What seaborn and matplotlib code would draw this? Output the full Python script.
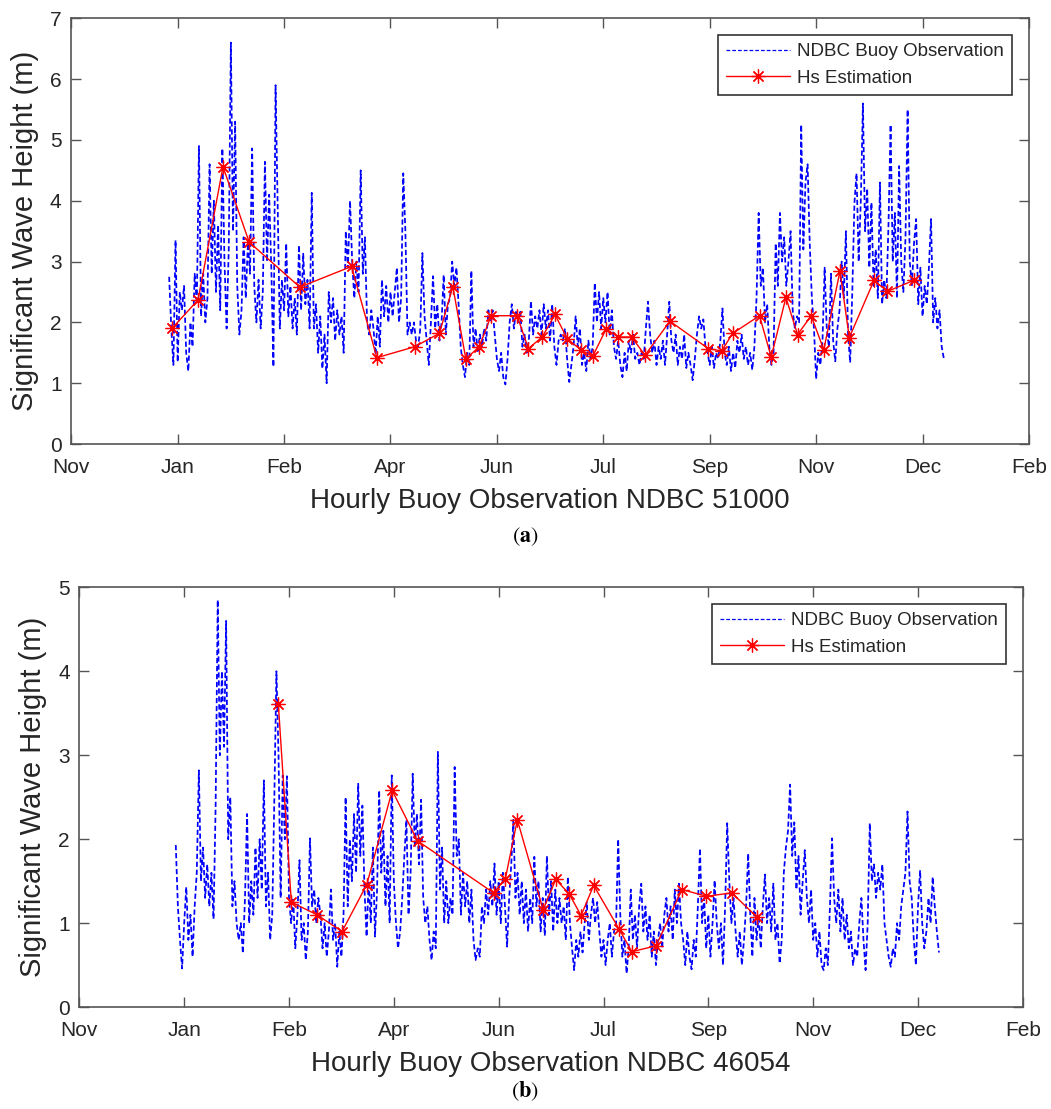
import numpy as np
import pandas as pd
import matplotlib
matplotlib.use("Agg")
import matplotlib.pyplot as plt
import seaborn as sns

# ---------------------------------------------------------------------------
# Axis ticks (x axis measured in days from the first tick)
tick_days = [0, 50, 100, 150, 200, 250, 300, 350, 400, 450]
tick_labels = ["Nov", "Jan", "Feb", "Apr", "Jun", "Jul", "Sep", "Nov", "Dec", "Feb"]

# Buoy observations, one sample per day starting at day 46
obs_first_day = 46
obs_51000 = [
    2.75, 1.9, 1.3, 3.35, 1.35,   2.5, 2.2, 2.6, 1.5, 1.2,
    2.0, 1.6, 2.8, 2.3, 4.9,      2.1, 2.8, 2.0, 2.4, 4.6,
    2.8, 4.0, 2.5, 3.6, 2.2,      4.86, 3.0, 1.9, 3.2, 6.6,
    3.5, 5.3, 2.6, 1.8, 2.2,      3.4, 2.4, 3.3, 2.8, 4.86,
    2.6, 2.0, 2.7, 1.9, 2.5,      4.64, 3.0, 4.1, 2.9, 1.27,
    5.9, 3.9, 1.9, 2.7, 2.2,      3.3, 2.1, 2.6, 1.9, 2.4,
    1.8, 3.27, 2.2, 3.13, 2.3,    2.7, 1.9, 4.13, 1.9, 2.3,
    1.5, 2.1, 1.24, 1.8, 1.0,     2.5, 2.0, 2.4, 1.7, 2.2,
    1.8, 2.1, 1.5, 3.5, 2.9,      4.0, 3.0, 2.4, 3.0, 2.5,
    4.5, 2.8, 3.4, 2.0, 1.8,      2.2, 1.9, 1.47, 2.1, 1.6,
    2.7, 2.1, 2.6, 2.0, 2.5,      2.1, 2.5, 2.9, 2.0, 2.4,
    4.45, 3.5, 1.8, 2.0, 1.8,     2.0, 1.7, 1.6, 1.9, 3.14,
    2.1, 1.7, 1.3, 2.0, 2.76,     1.9, 2.3, 1.7, 2.0, 2.78,
    1.8, 2.3, 2.4, 3.0, 2.6,      2.9, 2.3, 1.6, 1.3, 1.1,
    1.5, 1.3, 2.85, 1.6, 1.9,     1.5, 1.8, 1.6, 1.9, 1.7,
    2.2, 2.0, 2.2, 1.8, 1.4,      1.2, 1.5, 1.1, 0.98, 1.4,
    2.0, 2.3, 1.9, 2.2, 2.0,      2.2, 1.6, 1.8, 1.5, 1.7,
    2.35, 1.8, 2.1, 1.9, 2.2,     1.8, 2.3, 1.9, 2.2, 1.7,
    2.3, 1.6, 1.3, 1.7, 1.8,      1.7, 1.9, 1.4, 1.02, 1.3,
    1.6, 2.1, 1.6, 1.9, 1.3,      1.5, 1.2, 1.7, 1.4, 1.6,
    2.65, 2.0, 2.5, 1.9, 2.4,     2.0, 2.5, 1.8, 2.2, 1.6,
    1.4, 1.7, 1.3, 1.1, 1.5,      1.2, 1.7, 1.5, 1.8, 1.4,
    1.5, 1.3, 1.5, 1.4, 1.9,      2.34, 1.8, 1.5, 1.7, 1.3,
    1.6, 1.4, 1.7, 1.3, 1.8,      2.34, 1.7, 1.5, 1.8, 1.3,
    1.6, 1.4, 1.8, 1.25, 1.5,     1.3, 1.05, 1.4, 1.8, 2.1,
    1.9, 2.05, 1.6, 1.5, 1.3,     1.6, 1.25, 1.5, 1.4, 1.7,
    2.23, 1.5, 1.3, 1.6, 1.2,     1.5, 1.25, 1.7, 1.5, 1.8,
    1.4, 1.6, 1.3, 1.5, 1.22,     1.6, 2.4, 3.8, 2.6, 2.9,
    2.0, 2.3, 1.6, 1.3, 1.5,      3.3, 2.6, 3.8, 3.0, 3.4,
    2.6, 3.0, 3.5, 2.2, 1.9,      2.1, 2.0, 5.25, 3.2, 4.3,
    4.6, 3.3, 2.4, 1.9, 1.07,     1.5, 1.3, 1.7, 2.9, 1.9,
    1.6, 2.8, 1.7, 1.36, 1.9,     2.2, 3.0, 2.4, 3.5, 1.8,
    1.34, 2.5, 3.96, 4.45, 3.0,   4.0, 5.6, 3.5, 4.2, 2.9,
    3.97, 2.6, 3.2, 2.4, 4.3,     2.3, 2.7, 2.4, 3.6, 5.25,
    3.0, 3.8, 2.4, 4.57, 3.0,     2.5, 3.4, 5.5, 3.0, 2.6,
    3.3, 3.7, 2.3, 2.9, 2.1,      2.6, 2.3, 2.9, 3.7, 2.0,
    2.4, 1.9, 2.2, 1.6, 1.41,
]
obs_46054 = [
    1.93, 1.2, 0.8, 0.46, 1.0,    1.43, 0.8, 1.1, 0.6, 1.2,
    1.6, 2.82, 1.5, 1.9, 1.3,     1.7, 1.2, 1.6, 1.05, 2.4,
    4.85, 3.0, 4.0, 3.1, 4.6,     2.0, 2.5, 1.2, 1.5, 1.0,
    0.8, 1.0, 0.64, 1.3, 2.3,     1.0, 1.5, 1.1, 1.9, 1.3,
    2.0, 1.4, 2.7, 1.2, 1.6,      0.8, 1.1, 2.5, 4.0, 3.0,
    1.3, 2.76, 2.0, 2.75, 1.3,    1.0, 1.3, 0.7, 1.1, 1.75,
    0.8, 1.0, 0.56, 0.9, 2.01,    1.2, 1.4, 1.0, 1.3, 1.1,
    0.7, 1.0, 0.6, 0.9, 1.4,      0.8, 1.0, 0.48, 0.9, 0.6,
    1.1, 2.5, 1.2, 2.0, 1.5,      2.3, 1.6, 2.66, 1.8, 2.4,
    1.4, 0.84, 1.5, 1.0, 1.9,     0.84, 1.4, 2.58, 1.6, 2.1,
    1.2, 1.8, 1.0, 2.76, 1.5,     1.0, 0.7, 0.9, 1.3, 1.8,
    2.23, 1.1, 1.6, 2.78, 1.9,    2.3, 1.7, 2.47, 1.3, 1.0,
    1.2, 0.8, 0.56, 0.9, 0.7,     3.04, 1.4, 1.9, 1.0, 1.5,
    1.0, 1.3, 1.1, 2.86, 1.8,     2.0, 1.1, 1.6, 1.2, 1.5,
    1.0, 1.4, 0.8, 0.56, 0.7,     0.6, 1.2, 1.0, 1.4, 1.1,
    1.5, 1.2, 1.71, 1.1, 1.5,     1.0, 1.6, 1.2, 0.72, 1.3,
    1.7, 2.23, 1.3, 1.6, 1.1,     1.5, 1.0, 1.4, 0.9, 1.3,
    1.0, 1.79, 1.2, 1.5, 0.9,     1.3, 0.85, 1.8, 1.1, 1.5,
    0.9, 1.4, 1.0, 1.3, 1.0,      1.2, 0.8, 1.55, 1.0, 0.7,
    0.44, 0.8, 0.6, 0.9, 0.65,    1.0, 1.25, 0.8, 1.1, 1.3,
    1.0, 1.25, 0.9, 0.6, 0.8,     0.5, 0.8, 1.0, 0.6, 0.9,
    1.0, 2.0, 1.1, 0.6, 0.8,      0.4, 0.7, 1.4, 0.8, 1.1,
    0.7, 1.2, 1.47, 0.9, 1.2,     0.8, 1.1, 0.6, 0.9, 0.5,
    0.8, 1.0, 0.7, 1.1, 1.3,      0.9, 1.2, 0.8, 1.4, 1.0,
    1.47, 1.0, 0.8, 0.5, 0.9,     0.6, 0.45, 0.8, 0.6, 1.2,
    1.89, 1.0, 1.3, 0.7, 1.1,     0.6, 1.0, 1.51, 1.0, 0.7,
    1.0, 0.5, 1.2, 2.19, 1.5,     1.0, 1.3, 0.9, 0.6, 0.9,
    0.5, 0.8, 1.2, 1.83, 1.1,     0.6, 1.3, 0.8, 1.1, 0.7,
    1.2, 1.58, 1.0, 1.3, 0.9,     1.47, 0.8, 1.0, 0.52, 0.8,
    1.6, 1.9, 2.1, 2.65, 1.8,     2.2, 1.4, 1.8, 1.1, 1.5,
    1.87, 1.3, 1.0, 1.4, 0.8,     1.0, 0.6, 0.9, 0.5, 0.44,
    0.7, 0.5, 1.2, 2.01, 1.3,     1.0, 1.4, 0.9, 1.3, 0.8,
    1.1, 0.7, 0.9, 0.5, 0.7,      0.6, 1.0, 1.3, 0.8, 0.44,
    1.0, 2.19, 1.5, 1.7, 1.3,     1.6, 1.4, 1.7, 1.0, 0.8,
    0.6, 0.48, 0.7, 0.6, 1.0,     0.8, 1.2, 1.4, 1.6, 2.33,
    1.5, 1.3, 0.8, 0.5, 1.2,      1.63, 1.0, 0.7, 0.9, 1.3,
    1.0, 1.55, 1.2, 0.9, 0.65,
]

# Hs estimates
est_51000_day = [47.3, 59.6, 71.3, 83.6, 107.4, 131.7, 143.6, 161.4, 173.0,
                 179.3, 185.4, 191.7, 197.3, 209.5, 214.8, 221.3, 227.3,
                 233.1, 239.4, 245.0, 251.3, 257.1, 263.3, 269.6, 281.3,
                 299.3, 305.6, 310.8, 323.4, 328.9, 335.8, 341.3, 347.7,
                 353.6, 361.2, 365.6, 377.2, 383.5, 395.8]
est_51000_hs = [1.90, 2.37, 4.56, 3.32, 2.58, 2.92, 1.42, 1.60, 1.82,
                2.59, 1.40, 1.60, 2.11, 2.11, 1.57, 1.76, 2.13,
                1.73, 1.55, 1.44, 1.89, 1.76, 1.76, 1.46, 2.02,
                1.57, 1.53, 1.82, 2.11, 1.43, 2.41, 1.80, 2.11,
                1.55, 2.84, 1.75, 2.69, 2.51, 2.69]

est_46054_day = [94.9, 101.1, 113.3, 125.3, 137.1, 149.2, 161.3, 197.6,
                 203.2, 208.9, 221.2, 227.2, 233.6, 239.3, 245.3, 257.4,
                 263.5, 275.1, 287.4, 299.1, 311.2, 323.3]
est_46054_hs = [3.61, 1.25, 1.10, 0.90, 1.46, 2.58, 1.98, 1.36,
                1.53, 2.23, 1.16, 1.52, 1.35, 1.09, 1.45, 0.93,
                0.66, 0.73, 1.40, 1.32, 1.36, 1.07]

panels = [
    dict(obs=obs_51000, est_day=est_51000_day, est_hs=est_51000_hs,
         ymax=7, station="51000", tag="a", tag_y=0.5158,
         rect=[0.0678, 0.5996, 0.9112, 0.3839]),
    dict(obs=obs_46054, est_day=est_46054_day, est_hs=est_46054_hs,
         ymax=5, station="46054", tag="b", tag_y=0.0160,
         rect=[0.0755, 0.0919, 0.8977, 0.3785]),
]

# ---------------------------------------------------------------------------
sns.set_theme(style="ticks")
plt.rcParams["font.family"] = ["Liberation Sans", "DejaVu Sans"]
plt.rcParams["mathtext.fontset"] = "stix"

axis_grey = "#555555"
text_grey = "#262626"

fig = plt.figure(figsize=(10.51, 11.09), dpi=100)

for p in panels:
    ax = fig.add_axes(p["rect"])
    obs_df = pd.DataFrame({
        "day": np.arange(obs_first_day, obs_first_day + len(p["obs"])),
        "hs": p["obs"],
    })
    est_df = pd.DataFrame({"day": p["est_day"], "hs": p["est_hs"]})

    sns.lineplot(data=obs_df, x="day", y="hs", ax=ax, estimator=None,
                 sort=False, color="#0000ff", linewidth=1.25,
                 linestyle=(0, (3, 1.6)), label="NDBC Buoy Observation")
    sns.lineplot(data=est_df, x="day", y="hs", ax=ax, estimator=None,
                 sort=False, color="#ff0000", linewidth=1.0,
                 marker=(8, 2, 0), markersize=10,
                 markeredgecolor="#ff0000", markeredgewidth=0.9,
                 label="Hs Estimation")

    ax.set_xlim(0, 450)
    ax.set_ylim(0, p["ymax"])
    ax.set_xticks(tick_days)
    ax.set_xticklabels(tick_labels)
    ax.set_yticks(range(0, p["ymax"] + 1))

    for s in ax.spines.values():
        s.set_visible(True)
        s.set_color(axis_grey)
        s.set_linewidth(1.2)
    ax.tick_params(direction="in", length=7, width=1.0, color=axis_grey,
                   top=True, right=True, labelsize=15,
                   labelcolor=text_grey)
    ax.tick_params(axis="x", pad=10)
    ax.tick_params(axis="y", pad=7)

    ax.set_xlabel(f"Hourly Buoy Observation NDBC {p['station']}",
                  fontsize=20, color=text_grey, labelpad=8)
    ax.set_ylabel("Significant Wave Height (m)", fontsize=21,
                  color=text_grey, labelpad=8)

    leg = ax.legend(loc="upper right", fontsize=13.5, frameon=True,
                    fancybox=False, framealpha=1, edgecolor="#333333",
                    handlelength=3.4, borderaxespad=0.9, labelspacing=0.5,
                    borderpad=0.42, handletextpad=0.4)
    leg.get_frame().set_linewidth(1.2)
    for line in leg.get_lines():
        if line.get_label() == "NDBC Buoy Observation":
            line.set_linewidth(0.9)
    for t in leg.get_texts():
        t.set_color(text_grey)

    # panel tag under the x label
    fig.text(0.5, p["tag_y"], rf"$(\mathbf{{{p['tag']}}})$",
             ha="center", va="center", fontsize=16, color="black")

fig.savefig("out.png", dpi=100)
